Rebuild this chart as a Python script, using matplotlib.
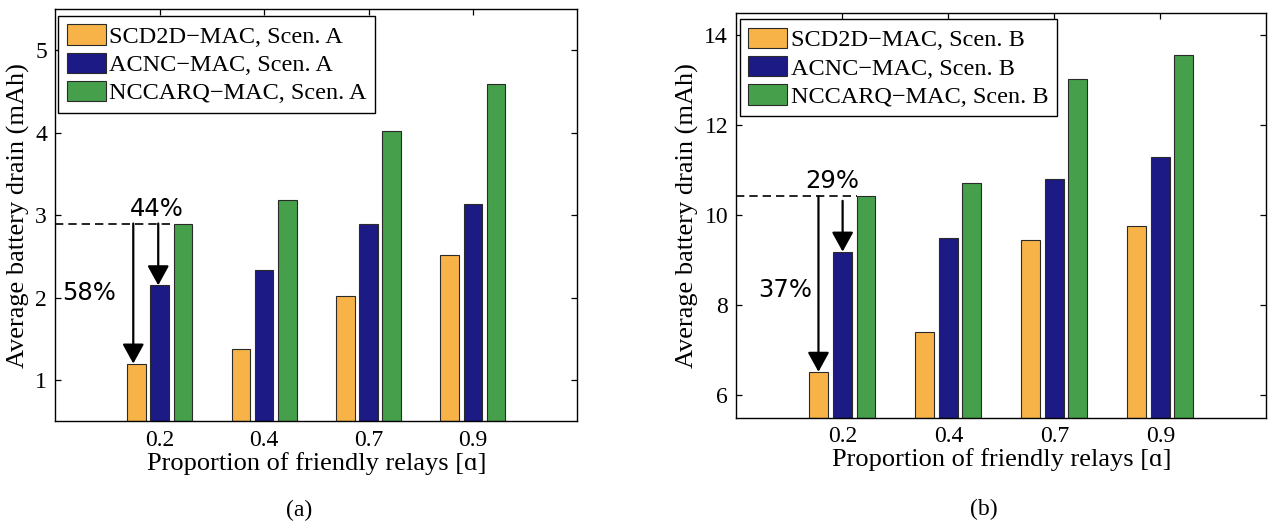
import numpy as np
import matplotlib
matplotlib.use("Agg")
import matplotlib.pyplot as plt

# ---- data ----
categories = ['0.2', '0.4', '0.7', '0.9']
scenA_scd2d = [1.20, 1.38, 2.02, 2.52]
scenA_acnc = [2.15, 2.33, 2.90, 3.14]
scenA_nccarq = [2.90, 3.18, 4.02, 4.59]
scenB_scd2d = [6.52, 7.41, 9.45, 9.76]
scenB_acnc = [9.19, 9.49, 10.81, 11.30]
scenB_nccarq = [10.42, 10.72, 13.03, 13.57]
labelsA = ['SCD2D\u2212MAC, Scen. A', 'ACNC\u2212MAC, Scen. A', 'NCCARQ\u2212MAC, Scen. A']
labelsB = ['SCD2D\u2212MAC, Scen. B', 'ACNC\u2212MAC, Scen. B', 'NCCARQ\u2212MAC, Scen. B']
pctA = ['58%', '44%']
pctB = ['37%', '29%']

colors = ['#F7B347', '#1C1A85', '#46A04B']
SERIF = ['Liberation Serif', 'DejaVu Serif']
SANS = ['DejaVu Sans']

plt.rcParams['font.family'] = SERIF

fig = plt.figure(figsize=(12.68, 5.23), dpi=100)
axA = fig.add_axes([0.0436, 0.1945, 0.4117, 0.7878])
axB = fig.add_axes([0.5808, 0.2013, 0.4178, 0.7744])

x = np.arange(1, len(categories) + 1)
off = 0.222
w = 0.178


def draw(ax, series, labels, ylim, yticks, pcts, pct_pos):
    s1, s2, s3 = series
    for k, (vals, col, lab) in enumerate(zip(series, colors, labels)):
        ax.bar(x + (k - 1) * off, np.array(vals) - ylim[0], bottom=ylim[0], width=w,
               color=col, edgecolor='#2a2a2a', linewidth=0.8, label=lab, zorder=2)
    ax.set_xlim(0, 5)
    ax.set_ylim(*ylim)
    ax.set_xticks(x)
    ax.set_xticklabels(categories)
    ax.set_yticks(yticks)
    ax.tick_params(direction='in', length=4, width=0.9, top=True, right=True,
                   labelsize=17, pad=6)
    for sp in ax.spines.values():
        sp.set_linewidth(1.0)
    ax.set_xlabel('Proportion of friendly relays [\u0251]', fontsize=19, labelpad=1)
    ax.set_ylabel('Average battery drain (mAh)', fontsize=19, labelpad=4)
    leg = ax.legend(loc='upper left', bbox_to_anchor=(0.006, 0.984), borderaxespad=0,
                    fontsize=17.5, handlelength=1.6, handleheight=0.9,
                    handletextpad=0.15, labelspacing=0.2, borderpad=0.35,
                    fancybox=False, framealpha=1, edgecolor='black')
    leg.get_frame().set_linewidth(1.0)
    # dashed reference line at NCCARQ level of first group
    ref = s3[0]
    green_left = x[0] + off - w / 2
    ax.plot([0, green_left], [ref, ref], color='black', lw=1.2, ls=(0, (5, 3)), zorder=3)
    # arrows
    arrow_kw = dict(arrowstyle='-|>,head_length=0.6,head_width=0.33',
                    mutation_scale=20, color='black', lw=1.6, shrinkA=0, shrinkB=0)
    ax.annotate('', xy=(pct_pos['ax1'], s1[0]), xytext=(pct_pos['ax1'], ref),
                arrowprops=arrow_kw, zorder=4)
    ax.annotate('', xy=(pct_pos['ax2'], s2[0]), xytext=(pct_pos['ax2'], pct_pos['start2']),
                arrowprops=arrow_kw, zorder=4)
    ax.text(*pct_pos['t1'], pcts[0], family=SANS, fontsize=17.5, ha='center', va='center')
    ax.text(*pct_pos['t2'], pcts[1], family=SANS, fontsize=17.5, ha='center', va='center')


draw(axA, (scenA_scd2d, scenA_acnc, scenA_nccarq), labelsA, (0.5, 5.5), [1, 2, 3, 4, 5], pctA,
     dict(ax1=0.747, ax2=0.986, start2=scenA_nccarq[0], t1=(0.323, 2.06), t2=(0.974, 3.08)))
draw(axB, (scenB_scd2d, scenB_acnc, scenB_nccarq), labelsB, (5.5, 14.5), [6, 8, 10, 12, 14], pctB,
     dict(ax1=0.774, ax2=1.002, start2=10.32, t1=(0.458, 8.33), t2=(0.90, 10.75)))

fig.text(0.2358, 0.0249, '(a)', fontsize=17, ha='center', va='center')
fig.text(0.776, 0.0268, '(b)', fontsize=17, ha='center', va='center')

fig.savefig('out.png', dpi=100)
